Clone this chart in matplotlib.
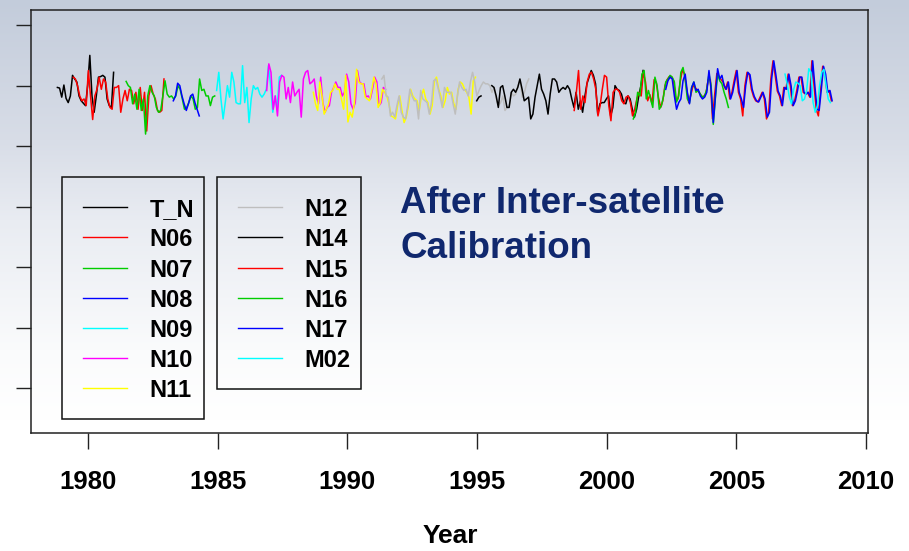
import numpy as np
import matplotlib
matplotlib.use("Agg")
import matplotlib.pyplot as plt
from matplotlib.lines import Line2D
from matplotlib.patches import Rectangle

nan = np.nan

# monthly anomalies in hundredths of one y-tick step; start = decimal year of first month
names = ["T_N", "N06", "N07", "N08", "N09", "N10", "N11",
         "N12", "N14", "N15", "N16", "N17", "M02"]
colors = ["#000000", "#FF0000", "#00CD00", "#0000FF", "#00FFFF", "#FF00FF", "#FFFF00",
          "#BEBEBE", "#000000", "#FF0000", "#00CD00", "#0000FF", "#00FFFF"]
starts = [1978.82, 1979.43, 1981.47, 1983.29, 1984.96, 1986.89, 1988.69,
          1991.33, 1994.99, 1998.75, 2001.03, 2002.28, 2006.88]

tn = [-3, -4, -19, 1, -21, -28, -17, 17, 11, 6, -17, -25, -29, -33, 0, 50, -17, -44,
      -17, 14, 15, 17, 14, -22, -33, -36, 22]
n06 = [14, 11, 0, -17, -25, -22, -33, 25, -17, -56, -17, -6, 14, -6, 11, 6, -22, -36,
       -39, -3, -3, 0, -44, -22, -8, -25, -6, -8, -30, -11, -39, -3, -41, -11, -75, -17,
       0, -14, -22, -41, -44, -41, 11]
n07 = [7, 0, -3, -30, -14, -39, -6, -41, -22, -80, -17, 0, -11, -17, -36, -44, -41, -17,
       8, -14, -19, -17, -22, -17, 0, -6, -22, -39, -36, -28, -17, -22, -39, -36, 11, -8,
       -6, -17, -17, -33, -19, -17]
n08 = [-25, -17, 4, 0, -17, -30, -41, -30, -17, -14, -28, -39, -50]
n09 = [-8, 22, -22, -55, -28, 0, -19, 22, 6, -28, -30, -30, 33, -28, -3, -61, -22, 0,
       -6, -3, -14, -19, -14, -6, 33, 0, -44, -17, -39, 14, 17]
n10 = [-8, 36, 22, -39, -17, -50, 6, 17, 14, -22, -3, -28, 6, -17, -11, -6, -52, 11,
       22, 25, 3, 6, 11, -17, -30, 14, -28, -44, -36, -33, -11, -3, 6, -3, -3, -17,
       -11, 19, 6, -30, -39, -28, 25, 6, 3, 3, -19, -17, -22, -6, 14, 6, -33, -28, -3, -6]
n11 = [-11, -30, -41, 6, -17, -47, -39, -30, -11, -8, 3, -6, -6, -22, -39, 17, -60, -44,
       -52, -28, 27, 6, 3, 3, -19, -22, -25, -8, 14, 3, -36, -28, -6, -11, -17, -30,
       -50, -52, -55, -33, -17, -41, -61, -52, -33, -6, -17, -22, -25, -41, -17, -6,
       -22, -28, -47, -33, 8, 14, -6, -17, -36, -25, -3, -14, -11, -30, -39, -6, 6, 3,
       -6, -11, -19, -47, 8, 14]
n12 = [11, 17, -17, -19, -50, -44, -52, -33, -17, -44, -52, -55, -33, -6, -17, -25, -25,
       -55, -8, -22, -25, -28, -47, -28, 8, 11, -3, -19, -36, -3, -11, -11, -11, -30,
       -47, -17, 6, -3, -8, -6, -17, 6, 22, 6, -17, -8, 0, 6, 3, 3, 0, -11, -3, -22,
       -33, -28, -17, -41, -36, -33, -11, -17, -14, 0, 8, -19, -11, 3, 11]
n14 = [-25, -19, -17, nan, nan, nan, nan, 0, -3, -17, -36, -3, 0, -17, -36, -36, -11, -6,
       -11, -3, 11, -6, -25, -22, -19, -55, -47, -19, 0, 19, -6, -14, -25, -47, -14, 11,
       11, 6, -11, -6, -3, -6, 0, -6, -22, -36, -11, -39, -25, -44, -19, 3, 14,
       25, 17, 3, -47, -30, -28, -28, -22, -17, -50, -36, 0, -6, -8, -14, -28, -30, -17,
       -22, -39, -52, -39, -17, 0, 25]
n15 = [-41, -11, 25, -39, -17, -28, 6, 19,
       22, 11, -6, -50, -33, -6, 17, 14, -33, -58, -11, -6, -6, -11, -25, -30, -19, -17,
       -28, -50, -39, -22, -11, -17, 22, 6, -25,
       -15, -30, 10, 5, -20, -36, -25, 0, 10, 15, 15, 8, -25, -22, 5, 25, 20, -5, -28,
       -15, 0, -3, -8, -12, -18, -18, -12, 10, 10, -55, -15, 20, 15, 10, 5,
       -6, 6, -22, -11, 8, 25, -11, -22, -50, 0, 22, 18, -6, -18, -25, -27, -19, -11,
       -22, -55, -44, 11, 41, 17, -9, -17, -33, -3, -6, 19, 0, -33, -25, -8, 14, 14,
       -11, -14, -11, -19, 41, 0, -39, -50, -6, 32, 19, -11, -8, -25]
n16 = [-55, -44, -11, -17, 19, 25, -22, -8, -22, -36, 14, 0, -39, -33, -17, 6, 11, 17,
       14, 6, -27, -17, 22, 30, 11, -22, -28, -3, 6, -11, -8, -14, -19, -17, -6, 19, 0,
       -64, -19, 19, 8, 3, -11, -22, -36]
n17 = [-6, 8, 14, 11, -17, -39, -28, -22, 8, 19, -11, -30, -3, 6, -8, -6, -17, -22, -19,
       -11, 25, -6, -61, -17, 28, 11, 17, 0,
       -6, 6, -22, -11, 8, 25, -11, -22, -36, 0, 22, 18, -6, -18, -25, -27, -19, -11,
       -22, -52, -44, 11, 41, 17, -9, -17, -33, -3, -6, 19, 0, -33, -25, -8, 14, 14,
       -11, -14, -11, -19, 41, 0, -39, -41, -6, 32, 19, -11, -8, -25]
m02 = [19, 3, -19, -30, -6, 6, 4, 0, -25, -22, -8, 28, 22, -28, -44, -33, 0, 22, 27, 0,
       -22, -28]

values = [tn, n06, n07, n08, n09, n10, n11, n12, n14, n15, n16, n17, m02]

year_ticks = [1980, 1985, 1990, 1995, 2000, 2005, 2010]
y_ticks = [100, 0, -100, -200, -300, -400, -500]

W, H = 909, 551
SANS = ["Liberation Sans", "DejaVu Sans"]


def fx(px):
    return px / W


def fy(py):
    return 1 - py / H


def gradient_background(fig):
    bg = fig.add_axes([0, 0, 1, 1], zorder=0)
    rows = np.arange(H)
    stops = [0, 140, 220, 350, 420]
    cols = np.array([[195, 204, 219], [216, 221, 231], [233, 236, 242],
                     [250, 251, 252], [255, 255, 255]]) / 255.0
    img = np.stack([np.interp(rows, stops, cols[:, k]) for k in range(3)], axis=1)
    img = np.repeat(img[:, None, :], 4, axis=1)
    bg.imshow(img, aspect="auto", extent=[0, 1, 0, 1], interpolation="bilinear")
    bg.axis("off")


def legend_box(fig, box, line_x, text_x, labels, cols):
    left, top, right, bottom = box
    fig.add_artist(Rectangle((fx(left), fy(bottom)), fx(right - left), (bottom - top) / H,
                             transform=fig.transFigure, fill=False, ec="#111111",
                             lw=1.1, zorder=5))
    for i, (lab, c) in enumerate(zip(labels, cols)):
        ry = 207.3 + 30.15 * i
        fig.add_artist(Line2D([fx(line_x[0]), fx(line_x[1])], [fy(ry), fy(ry)],
                              transform=fig.transFigure, color=c, lw=1.0, zorder=5))
        fig.text(fx(text_x), fy(ry + 9), lab, fontsize=17, fontweight="bold",
                 family=SANS, ha="left", va="baseline", zorder=5)


def main():
    fig = plt.figure(figsize=(W / 100, H / 100), dpi=100)
    gradient_background(fig)

    ax = fig.add_axes([fx(30.7), fy(433), (868 - 30.7) / W, (433 - 10) / H], zorder=1)
    ax.set_facecolor("none")

    for name, c, start, vals in zip(names, colors, starts, values):
        y = np.array(vals, dtype=float)
        x = start + np.arange(len(y)) / 12.0
        ax.plot(x, y, color=c, lw=1.1, label=name)

    ax.set_xlim(1977.79, 2010.08)
    ax.set_ylim(-574, 125)
    ax.set_xticks(year_ticks)
    ax.set_xticklabels([str(t) for t in year_ticks], fontsize=18.5, fontweight="bold",
                       family=SANS)
    ax.set_yticks(y_ticks)
    ax.set_yticklabels([])
    ax.tick_params(axis="x", length=11.5, width=1.0, pad=15, color="#222222")
    ax.tick_params(axis="y", length=10.6, width=1.0, color="#222222")
    for sp in ax.spines.values():
        sp.set_linewidth(1.1)
        sp.set_color("#222222")

    legend_box(fig, (61.7, 176.7, 204, 419), (83.3, 126.7), 149.3, names[:7], colors[:7])
    legend_box(fig, (216.7, 176.7, 361, 389), (238, 281.7), 304.3, names[7:], colors[7:])

    title_color = "#10286E"
    fig.text(fx(400), fy(213), "After Inter-satellite", fontsize=26.5, fontweight="bold",
             family=SANS, color=title_color, ha="left", va="baseline")
    fig.text(fx(400), fy(258), "Calibration", fontsize=26.5, fontweight="bold",
             family=SANS, color=title_color, ha="left", va="baseline")

    fig.text(fx(450), fy(543), "Year", fontsize=19, fontweight="bold", family=SANS,
             ha="center", va="baseline")

    fig.savefig("out.png", dpi=100)
    plt.close(fig)


if __name__ == "__main__":
    main()
